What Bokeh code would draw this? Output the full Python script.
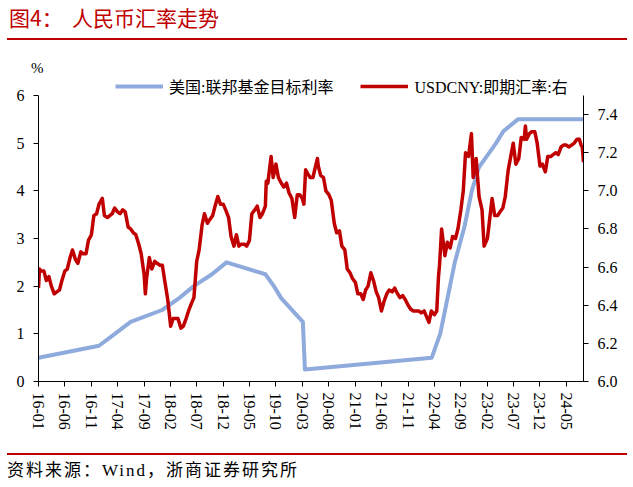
import pandas as pd
from bokeh.plotting import figure
from bokeh.layouts import column
from bokeh.models import (Range1d, LinearAxis, FixedTicker, DatetimeTickFormatter,
                          NumeralTickFormatter, Legend, LegendItem, Div)
from bokeh.core.properties import value
from bokeh.embed import file_html
from bokeh.resources import INLINE

# ---------------- data ----------------
fed_dates = ["2016-01-01", "2016-12-15", "2017-03-16", "2017-06-15", "2017-12-14",
             "2018-03-22", "2018-06-14", "2018-09-27", "2018-12-20", "2019-08-01",
             "2019-09-19", "2019-10-31", "2020-03-04", "2020-03-16", "2022-03-17",
             "2022-05-05", "2022-06-16", "2022-07-28", "2022-09-22", "2022-11-03",
             "2022-12-15", "2023-02-02", "2023-03-23", "2023-05-04", "2023-07-27",
             "2024-08-08"]
fed_rate = [0.50, 0.75, 1.00, 1.25, 1.50,
            1.75, 2.00, 2.25, 2.50, 2.25,
            2.00, 1.75, 1.25, 0.25, 0.50,
            1.00, 1.75, 2.50, 3.25, 4.00,
            4.50, 4.75, 5.00, 5.25, 5.50,
            5.50]

fx_dates = [
    "2016-01-01", "2016-01-07", "2016-01-15", "2016-02-01", "2016-02-15", "2016-03-01", "2016-03-15",
    "2016-04-01", "2016-04-15", "2016-05-01", "2016-05-15", "2016-06-01", "2016-06-15",
    "2016-07-01", "2016-07-15", "2016-08-01", "2016-08-15", "2016-09-01", "2016-09-15",
    "2016-10-01", "2016-10-15", "2016-11-01", "2016-11-15", "2016-12-01", "2016-12-15",
    "2017-01-03", "2017-01-15", "2017-02-01", "2017-02-15", "2017-03-01", "2017-03-15",
    "2017-04-01", "2017-04-15", "2017-05-01", "2017-05-15", "2017-06-01", "2017-06-15",
    "2017-07-01", "2017-07-15", "2017-08-01", "2017-08-15", "2017-09-01", "2017-09-08",
    "2017-09-15", "2017-10-01", "2017-10-15", "2017-11-01", "2017-11-15", "2017-12-01",
    "2017-12-15", "2018-01-01", "2018-01-15", "2018-02-01", "2018-02-15", "2018-03-01",
    "2018-03-15", "2018-04-01", "2018-04-15", "2018-05-01", "2018-05-15", "2018-06-01",
    "2018-06-15", "2018-07-01", "2018-07-15", "2018-08-01", "2018-08-15", "2018-09-01",
    "2018-09-15", "2018-10-01", "2018-10-15", "2018-10-31", "2018-11-15", "2018-12-01",
    "2018-12-15", "2019-01-01", "2019-01-15", "2019-02-01", "2019-02-15", "2019-03-01",
    "2019-03-15", "2019-04-01", "2019-04-15", "2019-05-01", "2019-05-15", "2019-06-01",
    "2019-06-15", "2019-07-01", "2019-07-15", "2019-08-01", "2019-08-06", "2019-08-15",
    "2019-09-03", "2019-09-15", "2019-10-01", "2019-10-15", "2019-11-01", "2019-11-15",
    "2019-12-01", "2019-12-15", "2020-01-01", "2020-01-17", "2020-02-01", "2020-02-15",
    "2020-03-01", "2020-03-10", "2020-03-20", "2020-04-01", "2020-04-15", "2020-05-01",
    "2020-05-27", "2020-06-01", "2020-06-15", "2020-07-01", "2020-07-15", "2020-08-01",
    "2020-08-15", "2020-09-01", "2020-09-15", "2020-10-01", "2020-10-15", "2020-11-01",
    "2020-11-15", "2020-12-01", "2020-12-15", "2021-01-01", "2021-01-15", "2021-02-01",
    "2021-02-15", "2021-03-01", "2021-03-15", "2021-03-31", "2021-04-15", "2021-05-01",
    "2021-05-15", "2021-05-31", "2021-06-15", "2021-07-01", "2021-07-15", "2021-08-01",
    "2021-08-15", "2021-09-01", "2021-09-15", "2021-10-01", "2021-10-15", "2021-11-01",
    "2021-11-15", "2021-12-01", "2021-12-15", "2022-01-01", "2022-01-15", "2022-02-01",
    "2022-02-15", "2022-03-01", "2022-03-15", "2022-04-01", "2022-04-15", "2022-04-25",
    "2022-05-01", "2022-05-13", "2022-06-01", "2022-06-15", "2022-07-01", "2022-07-15",
    "2022-08-01", "2022-08-15", "2022-09-01", "2022-09-15", "2022-09-28", "2022-10-15",
    "2022-11-01", "2022-11-11", "2022-11-28", "2022-12-15", "2023-01-01", "2023-01-13",
    "2023-02-01", "2023-02-28", "2023-03-15", "2023-04-01", "2023-04-15", "2023-05-01",
    "2023-05-15", "2023-06-01", "2023-06-30", "2023-07-15", "2023-08-01", "2023-08-15",
    "2023-09-01", "2023-09-08", "2023-09-15", "2023-10-01", "2023-10-15", "2023-11-01",
    "2023-11-15", "2023-12-01", "2023-12-15", "2024-01-01", "2024-01-15", "2024-02-01",
    "2024-02-15", "2024-03-01", "2024-03-15", "2024-04-01", "2024-04-15", "2024-05-01",
    "2024-05-15", "2024-06-01", "2024-06-15", "2024-07-01", "2024-07-15", "2024-07-25",
    "2024-08-01", "2024-08-08"]
usdcny = [
    6.49, 6.59, 6.58, 6.58, 6.53, 6.55, 6.50,
    6.46, 6.47, 6.48, 6.53, 6.58, 6.59,
    6.65, 6.69, 6.64, 6.62, 6.68, 6.67,
    6.67, 6.74, 6.77, 6.87, 6.88, 6.93,
    6.96, 6.87, 6.86, 6.87, 6.88, 6.91,
    6.89, 6.88, 6.90, 6.89, 6.81, 6.80,
    6.78, 6.77, 6.72, 6.67, 6.56, 6.46,
    6.54, 6.65, 6.59, 6.63, 6.62, 6.61,
    6.61, 6.51, 6.43, 6.29, 6.33, 6.33,
    6.33, 6.28, 6.29, 6.33, 6.37, 6.41,
    6.44, 6.63, 6.69, 6.82, 6.88, 6.83,
    6.85, 6.87, 6.92, 6.97, 6.93, 6.93,
    6.90, 6.86, 6.76, 6.71, 6.77, 6.71,
    6.72, 6.72, 6.71, 6.74, 6.88, 6.90,
    6.92, 6.86, 6.88, 6.92, 7.05, 7.04,
    7.18, 7.07, 7.14, 7.07, 7.04, 7.02,
    7.04, 6.99, 6.96, 6.86, 6.98, 6.98,
    6.96, 6.93, 7.11, 7.09, 7.07, 7.07,
    7.17, 7.13, 7.08, 7.07, 7.00, 6.98,
    6.95, 6.83, 6.78, 6.79, 6.71, 6.69,
    6.59, 6.57, 6.54, 6.52, 6.46, 6.46,
    6.43, 6.48, 6.50, 6.57, 6.53, 6.47,
    6.44, 6.37, 6.42, 6.46, 6.48, 6.47,
    6.49, 6.46, 6.44, 6.45, 6.43, 6.40,
    6.38, 6.37, 6.37, 6.37, 6.36, 6.37,
    6.34, 6.31, 6.37, 6.35, 6.37, 6.55,
    6.61, 6.80, 6.66, 6.73, 6.70, 6.76,
    6.75, 6.80, 6.90, 7.00, 7.20, 7.18,
    7.30, 7.07, 7.17, 6.97, 6.90, 6.71,
    6.75, 6.96, 6.87, 6.87, 6.89, 6.91,
    6.97, 7.11, 7.25, 7.14, 7.17, 7.28,
    7.27, 7.34, 7.27, 7.30, 7.31, 7.31,
    7.25, 7.13, 7.14, 7.10, 7.18, 7.18,
    7.19, 7.20, 7.19, 7.23, 7.24, 7.24,
    7.23, 7.24, 7.25, 7.27, 7.27, 7.24,
    7.23, 7.15]

tick_months = ["2016-01", "2016-06", "2016-11", "2017-04", "2017-09", "2018-02", "2018-07",
               "2018-12", "2019-05", "2019-10", "2020-03", "2020-08", "2021-01", "2021-06",
               "2021-11", "2022-04", "2022-09", "2023-02", "2023-07", "2023-12", "2024-05"]
left_ticks = [0, 1, 2, 3, 4, 5, 6]
right_ticks = [6.0, 6.2, 6.4, 6.6, 6.8, 7.0, 7.2, 7.4]

title_text = "图4：  人民币汇率走势"
footer_text = "资料来源：Wind，浙商证券研究所"
unit_text = "%"
fed_label = "美国:联邦基金目标利率"
fx_label = "USDCNY:即期汇率:右"

# ---------------- styling / layout ----------------
RED = "#C00000"
BLUE = "#8FAADC"
SERIF = "Liberation Serif"
CJK = "Liberation Serif, Noto Sans CJK SC"
W = 633
HEAD_H = 76          # header strip (title, rule, unit)
FOOT_H = 39          # footer strip (rule, source)
MAIN_H = 487 - HEAD_H - FOOT_H
AX_TOP = 95          # page y of the top tick (6 / 7.5)
AX_BOT = 381         # page y of the bottom axis
frame_h = AX_BOT - HEAD_H
ext = frame_h / (AX_BOT - AX_TOP)   # frame reaches a bit above the top tick


def to_ms(s):
    return pd.Timestamp(s).value / 1e6


fed_x = pd.to_datetime(fed_dates)
fx_x = pd.to_datetime(fx_dates)
ticks = [to_ms(m + "-01") for m in tick_months]

p = figure(width=W, height=MAIN_H, output_backend="svg", toolbar_location=None,
           x_range=Range1d(to_ms("2016-01-01"), to_ms("2024-08-08")),
           y_range=Range1d(0, 6 * ext),
           min_border_left=38, min_border_right=50, min_border_top=0,
           min_border_bottom=MAIN_H - frame_h,
           x_axis_type="datetime", margin=0)
p.outline_line_color = None
p.xgrid.grid_line_color = None
p.ygrid.grid_line_color = None
p.background_fill_color = "white"
p.border_fill_color = "white"
p.extra_y_ranges = {"fx": Range1d(6.0, 6.0 + 1.5 * ext)}

ya = p.yaxis[0]
ya.ticker = FixedTicker(ticks=left_ticks)
ya.bounds = (0, 6)
ra = LinearAxis(y_range_name="fx", ticker=FixedTicker(ticks=right_ticks),
                formatter=NumeralTickFormatter(format="0.0"), bounds=(6.0, 7.5))
p.add_layout(ra, "right")
xa = p.xaxis[0]
xa.ticker = FixedTicker(ticks=ticks)
fmt = "%y-%m"
xa.formatter = DatetimeTickFormatter(milliseconds=fmt, seconds=fmt, minsec=fmt, minutes=fmt,
                                     hourmin=fmt, hours=fmt, days=fmt, months=fmt, years=fmt)
xa.major_label_orientation = "vertical"

for ax, standoff in ((ya, 9), (ra, 9), (xa, 6)):
    ax.major_label_text_font = SERIF
    ax.major_label_text_font_size = "16px"
    ax.major_label_text_color = "black"
    ax.major_tick_out = 5
    ax.major_tick_in = 0
    ax.minor_tick_line_color = None
    ax.major_label_standoff = standoff
    ax.axis_line_color = "black"
    ax.major_tick_line_color = "black"

r_fed = p.line(fed_x, fed_rate, line_color=BLUE, line_width=4, line_join="round")
r_fx = p.line(fx_x, usdcny, y_range_name="fx", line_color=RED, line_width=3.5,
              line_join="round")

legend = Legend(items=[LegendItem(label=value(fed_label), renderers=[r_fed]),
                       LegendItem(label=value(fx_label), renderers=[r_fx])],
                orientation="horizontal", location=(77, AX_BOT - 98),
                label_text_font=CJK, label_text_font_size="16px", label_text_color="black",
                glyph_width=48, glyph_height=18, label_height=18, label_standoff=6,
                spacing=27, padding=0, margin=0,
                background_fill_alpha=0, border_line_color=None)
p.add_layout(legend, "center")

# ---------------- header & footer strips ----------------
head_html = f"""
<div style="position:relative;width:{W}px;height:{HEAD_H}px;background:white;overflow:hidden;">
  <span style="position:absolute;left:9px;top:6px;line-height:23px;font-size:21px;
               font-family:'Noto Sans CJK SC';color:{RED};white-space:pre;">{title_text}</span>
  <div style="position:absolute;left:7px;top:38px;width:620px;height:2px;background:{RED};"></div>
  <span style="position:absolute;left:31px;top:59px;line-height:18px;font-size:15px;
               font-family:'Liberation Serif';color:black;">{unit_text}</span>
</div>"""
foot_html = f"""
<div style="position:relative;width:{W}px;height:{FOOT_H}px;background:white;overflow:hidden;">
  <div style="position:absolute;left:7px;top:5px;width:620px;height:2px;background:{RED};"></div>
  <span style="position:absolute;left:7px;top:12px;line-height:22px;font-size:17px;
               letter-spacing:2px;font-family:'Liberation Serif','Noto Sans CJK SC';
               color:black;white-space:pre;">{footer_text}</span>
</div>"""

head = Div(text=head_html, width=W, height=HEAD_H, margin=0)
foot = Div(text=foot_html, width=W, height=FOOT_H, margin=0)

layout = column(head, p, foot, spacing=0, margin=0)
open("out.html", "w").write(file_html(layout, INLINE))
